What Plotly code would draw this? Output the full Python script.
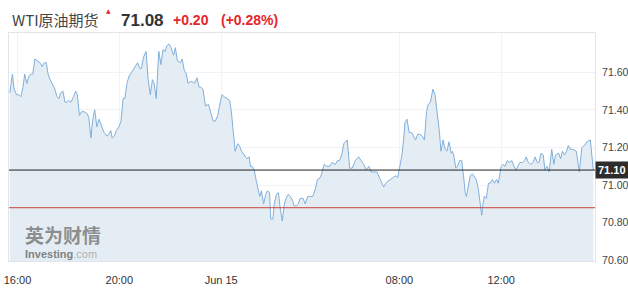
import pandas as pd
import plotly.graph_objects as go

# ---- data (minutes after 16:00 Jun 14, Beijing time) ----
minutes_from_1600 = [
    -18, -12, -8, -2, 3, 8, 13, 17, 22, 27, 32, 36, 41, 47, 53, 58, 63, 68, 72, 77,
    83, 88, 93, 98, 102, 107, 112, 116, 121, 126, 132, 137, 141, 146, 151, 157, 164, 168, 173, 178,
    182, 187, 192, 198, 204, 211, 215, 220, 223,
    228, 233, 239, 244, 249, 253, 258, 263, 269, 275, 283, 288, 292, 297, 303, 308, 313, 318, 322, 327,
    333, 338, 343, 348, 352, 357, 362, 368, 372, 377, 384, 388, 393, 398, 402, 407, 412, 417, 423, 428,
    432, 437, 443, 450,
    454, 461, 466, 472, 476, 482, 487, 494, 500, 504, 509, 513, 519, 523, 528, 534, 541, 546, 549, 553,
    558, 563, 567, 571, 575, 580, 585, 589, 594, 597, 602, 605, 610, 615, 619, 624, 629, 633, 638, 643,
    648, 652, 657, 662, 666, 673, 678, 684, 690, 696, 702, 707, 714, 718, 723, 729, 736, 741, 749, 754,
    759, 764, 769, 773, 777,
    843, 849, 856, 864, 870, 876, 882, 888, 893, 899, 907, 915, 923, 928, 932, 939, 945, 951, 956, 962,
    966, 970, 973, 978, 983, 989, 994, 998, 1003, 1009, 1014, 1019, 1024, 1028, 1033, 1039, 1044, 1049, 1054, 1058,
    1063, 1068, 1072, 1077, 1082, 1085, 1088, 1093, 1097, 1102, 1107, 1112, 1115, 1118, 1123, 1127, 1132, 1137, 1141, 1146,
    1151, 1154, 1157, 1160, 1165, 1170, 1174, 1179, 1184, 1189, 1193, 1200, 1204, 1209, 1214, 1219, 1225, 1229, 1234, 1239,
    1244, 1250, 1255, 1259, 1264, 1270, 1275, 1280, 1285, 1289, 1294, 1299, 1303, 1308, 1313, 1319, 1324, 1328, 1335, 1340,
    1344, 1349, 1354, 1358, 1363, 1369, 1377, 1384, 1390, 1396, 1402, 1410, 1417,
]
prices = [
    71.49, 71.59, 71.51, 71.48, 71.48, 71.47, 71.52, 71.59, 71.54, 71.58, 71.59, 71.59, 71.67, 71.66, 71.65, 71.63, 71.65, 71.65, 71.59, 71.56,
    71.53, 71.51, 71.47, 71.46, 71.49, 71.50, 71.44, 71.44, 71.45, 71.44, 71.47, 71.50, 71.48, 71.37, 71.39, 71.39, 71.38, 71.36, 71.25, 71.36,
    71.40, 71.31, 71.35, 71.31, 71.28, 71.26, 71.27, 71.29, 71.25,
    71.26, 71.29, 71.31, 71.34, 71.46, 71.46, 71.54, 71.58, 71.60, 71.62, 71.65, 71.62, 71.62, 71.68, 71.71, 71.56, 71.48, 71.56, 71.54, 71.46,
    71.71, 71.64, 71.72, 71.71, 71.74, 71.75, 71.73, 71.69, 71.73, 71.66, 71.65, 71.67, 71.61, 71.59, 71.54, 71.55, 71.55, 71.54, 71.57, 71.52,
    71.52, 71.51, 71.42, 71.43,
    71.40, 71.34, 71.34, 71.37, 71.42, 71.48, 71.47, 71.46, 71.45, 71.39, 71.29, 71.18, 71.22, 71.21, 71.18, 71.16, 71.14, 71.15, 71.10, 71.10,
    71.08, 71.02, 70.98, 70.94, 70.97, 70.90, 70.95, 70.97, 70.96, 70.82, 70.82, 70.90, 70.95, 70.96, 70.88, 70.81, 70.90, 70.93, 70.95, 70.94,
    70.92, 70.89, 70.89, 70.90, 70.93, 70.93, 70.90, 70.94, 70.94, 70.94, 70.98, 71.03, 71.04, 71.07, 71.11, 71.10, 71.10, 71.12, 71.11, 71.13,
    71.13, 71.16, 71.22, 71.23, 71.24,
    71.09, 71.09, 71.13, 71.15, 71.13, 71.11, 71.08, 71.10, 71.07, 71.07, 71.07, 71.03, 70.99, 71.01, 71.02, 71.03, 71.04, 71.05, 71.04, 71.11,
    71.16, 71.24, 71.33, 71.35, 71.28, 71.28, 71.26, 71.24, 71.27, 71.27, 71.26, 71.24, 71.39, 71.43, 71.44, 71.51, 71.48, 71.39, 71.29, 71.18,
    71.24, 71.19, 71.18, 71.23, 71.17, 71.18, 71.16, 71.09, 71.10, 71.13, 71.13, 71.03, 70.96, 70.94, 71.01, 71.05, 71.06, 71.04, 71.03, 70.98,
    70.89, 70.84, 70.90, 70.94, 70.93, 71.01, 71.01, 71.03, 71.01, 71.03, 71.01, 71.10, 71.11, 71.10, 71.13, 71.12, 71.13, 71.11, 71.08, 71.10,
    71.12, 71.12, 71.13, 71.15, 71.12, 71.11, 71.12, 71.15, 71.12, 71.12, 71.17, 71.16, 71.08, 71.10, 71.07, 71.19, 71.11, 71.16, 71.17, 71.14,
    71.18, 71.16, 71.18, 71.21, 71.19, 71.19, 71.18, 71.07, 71.20, 71.21, 71.23, 71.24, 71.08,
]
assert len(minutes_from_1600) == len(prices)

last_price = 71.08
prev_close = 70.88
last_label = "71.10"
title_name = "WTI原油期货"
change_text = "+0.20"
change_pct_text = "(+0.28%)"

x_tick_times = ["2021-06-14 16:00", "2021-06-14 20:00", "2021-06-15 00:00",
                "2021-06-15 08:00", "2021-06-15 12:00"]
x_tick_labels = ["16:00", "20:00", "Jun 15", "08:00", "12:00"]
y_tick_vals = [70.60, 70.80, 71.00, 71.20, 71.40, 71.60]
y_tick_labels = ["70.60", "70.80", "71.00", "71.20", "71.40", "71.60"]

base = pd.Timestamp("2021-06-14 16:00")
times = [base + pd.Timedelta(minutes=m) for m in minutes_from_1600]

# ---- figure geometry helpers (page pixels -> paper coords) ----
W, H = 628, 290
L, R, T, B = 9, 594.7, 33, 261.5
def px(x):
    return (x - L) / (R - L)
def py(y):
    return (B - y) / (B - T)

fig = go.Figure()
fig.add_trace(go.Scatter(
    x=times, y=prices, mode="lines",
    line=dict(color="#82afdc", width=1),
    fill="tozeroy", fillcolor="#e4edf3",
    hoverinfo="skip", showlegend=False,
))

fig.add_shape(type="line", xref="paper", x0=0, x1=1, yref="y", y0=last_price, y1=last_price,
              line=dict(color="#222222", width=1))
fig.add_shape(type="line", xref="paper", x0=0, x1=1, yref="y", y0=prev_close, y1=prev_close,
              line=dict(color="#c9403a", width=1))

annotations = [
    dict(x=px(10), y=py(19), text=title_name, xanchor="left", yanchor="middle",
         font=dict(family="Noto Sans CJK SC", size=15, color="#444444")),
    dict(x=px(108.5), y=py(10), text="▲", xanchor="center", yanchor="middle",
         font=dict(family="DejaVu Sans", size=6, color="#e8262b")),
    dict(x=px(119), y=py(20), text="<b>71.08</b>", xanchor="left", yanchor="middle",
         font=dict(family="Liberation Sans", size=17, color="#333333")),
    dict(x=px(171), y=py(20), text="<b>" + change_text + "</b>", xanchor="left", yanchor="middle",
         font=dict(family="Liberation Sans", size=14, color="#e6262b")),
    dict(x=px(219), y=py(20), text="<b>" + change_pct_text + "</b>", xanchor="left", yanchor="middle",
         font=dict(family="Liberation Sans", size=14, color="#e6262b")),
    dict(x=1, xref="paper", y=last_price, yref="y", text="<b>" + last_label + "</b>",
         xanchor="left", yanchor="middle", bgcolor="#2d2d2d", borderpad=2,
         font=dict(family="Liberation Sans", size=11, color="#ffffff")),
    dict(x=px(23), y=py(235), text="<b>英为财情</b>", xanchor="left", yanchor="middle",
         font=dict(family="Noto Sans CJK SC", size=19, color="rgba(110,110,110,0.75)")),
    dict(x=px(23), y=py(254), text="<b>Investing</b><span style='color:rgba(140,140,140,0.8)'>.com</span>",
         xanchor="left", yanchor="middle",
         font=dict(family="Liberation Sans", size=11, color="rgba(100,100,100,0.8)")),
]
for a in annotations:
    a.setdefault("xref", "paper")
    a.setdefault("yref", "paper")
    a["showarrow"] = False
fig.update_layout(annotations=annotations)

fig.update_layout(
    width=W, height=H,
    margin=dict(l=L, r=W - R, t=T, b=H - B, pad=0, autoexpand=False),
    paper_bgcolor="white", plot_bgcolor="white",
    xaxis=dict(
        type="date",
        range=["2021-06-14 15:40", "2021-06-15 15:41"],
        rangebreaks=[dict(bounds=["2021-06-15 05:00", "2021-06-15 06:00"])],
        tickvals=x_tick_times, ticktext=x_tick_labels,
        ticks="outside", ticklen=9, tickcolor="rgba(0,0,0,0)",
        tickfont=dict(family="Liberation Sans", size=11, color="#333333"),
        showgrid=True, gridcolor="#f1f2f5", gridwidth=1,
        showline=True, linecolor="#e3e3ec", mirror=True, zeroline=False,
    ),
    yaxis=dict(
        side="right",
        range=[70.597, 71.808],
        tickvals=y_tick_vals, ticktext=y_tick_labels,
        ticks="outside", ticklen=4, tickcolor="rgba(0,0,0,0)",
        tickfont=dict(family="Liberation Sans", size=10.5, color="#444444"),
        showgrid=True, gridcolor="#f1f2f5", gridwidth=1,
        showline=True, linecolor="#e3e3ec", mirror=True, zeroline=False,
    ),
)

fig.write_html("out.html", config=dict(displayModeBar=False))
